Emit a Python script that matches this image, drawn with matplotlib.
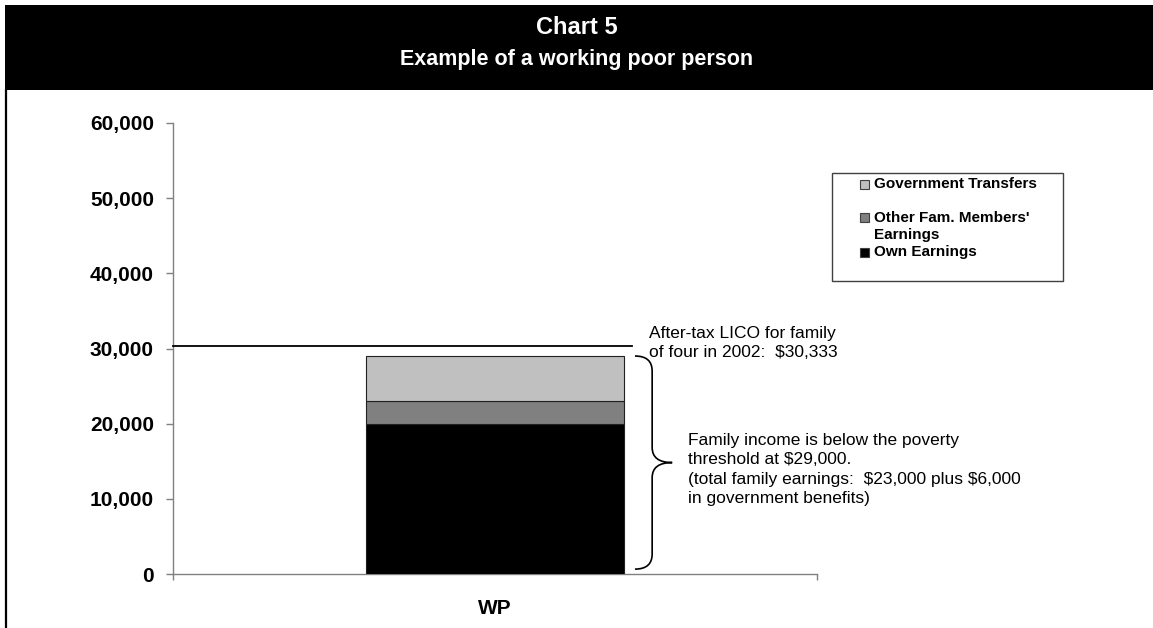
import matplotlib.pyplot as plt
from matplotlib.patches import Rectangle, PathPatch
from matplotlib.path import Path
from matplotlib.lines import Line2D
from matplotlib.ticker import FuncFormatter

plt.rcParams["font.family"] = ["Liberation Sans", "DejaVu Sans"]

# data
categories = ["WP"]
series_names = ["Own Earnings", "Other Fam. Members' Earnings", "Government Transfers"]
series_values = [[20000], [3000], [6000]]
series_colors = ["#000000", "#808080", "#c0c0c0"]
lico = 30333
total_income = 29000

fig = plt.figure(figsize=(11.53, 6.28), dpi=100)

# title band
fig.patches.append(Rectangle((5 / 1153, 1 - 90 / 628), 1 - 5 / 1153, 85 / 628,
                             transform=fig.transFigure, facecolor="black",
                             edgecolor="none", zorder=0))
fig.text(0.5, 1 - 28 / 628, "Chart 5", color="white", fontsize=17,
         fontweight="bold", ha="center", va="center")
fig.text(0.5, 1 - 59 / 628, "Example of a working poor person", color="white",
         fontsize=15.5, fontweight="bold", ha="center", va="center")
fig.lines.append(Line2D([6 / 1153, 6 / 1153], [0, 1 - 90 / 628],
                        transform=fig.transFigure, color="black", lw=1.6))

ax = fig.add_axes([172.7 / 1153, 54 / 628, 644 / 1153, 451 / 628])

# stacked bar
bottom = [0] * len(categories)
for name, vals, col in zip(series_names, series_values, series_colors):
    ax.bar(range(len(categories)), vals, width=0.4, bottom=bottom, color=col,
           edgecolor="#202020", linewidth=0.8, label=name, zorder=3)
    bottom = [b + v for b, v in zip(bottom, vals)]

ax.set_xlim(-0.5, 0.5)
ax.set_ylim(0, 60000)
ax.set_yticks(range(0, 60001, 10000))
ax.yaxis.set_major_formatter(FuncFormatter(lambda v, p: f"{int(v):,}"))
ax.set_xticks(range(len(categories)))
ax.set_xticklabels(categories)
ax.set_xticks([-0.5, 0.5], minor=True)

for s in ["top", "right"]:
    ax.spines[s].set_visible(False)
for s in ["left", "bottom"]:
    ax.spines[s].set_color("#808080")
    ax.spines[s].set_linewidth(1.0)

ax.tick_params(axis="y", length=5, width=1, color="#808080", pad=8.5,
               labelsize=15)
ax.tick_params(axis="x", which="major", length=0, pad=18, labelsize=15)
ax.tick_params(axis="x", which="minor", length=4, width=1, color="#808080")
for lbl in ax.get_yticklabels() + ax.get_xticklabels():
    lbl.set_fontweight("bold")

# LICO line and note
ax.plot([-0.5, 0.213], [lico, lico], color="black", lw=1.3, zorder=4,
        clip_on=False)
ax.text(0.2396, 30750, "After-tax LICO for family\nof four in 2002:  \\$30,333",
        fontsize=12.5, ha="left", va="center", linespacing=1.35)

# curly brace beside the bar
x0, x1, x2 = 0.2178, 0.2445, 0.2756
yt, yb = total_income, 650
ym = (yt + yb) / 2
r = 2000
verts = [(x0, yt), (x1, yt), (x1, yt - r),
         (x1, ym + r),
         (x1, ym), (x2, ym),
         (x1, ym), (x1, ym - r),
         (x1, yb + r),
         (x1, yb), (x0, yb)]
codes = [Path.MOVETO, Path.CURVE3, Path.CURVE3,
         Path.LINETO,
         Path.CURVE3, Path.CURVE3,
         Path.CURVE3, Path.CURVE3,
         Path.LINETO,
         Path.CURVE3, Path.CURVE3]
ax.add_patch(PathPatch(Path(verts, codes), facecolor="none", edgecolor="black",
                       lw=1.2, clip_on=False, zorder=4))

ax.text(0.300, 13900,
        "Family income is below the poverty\nthreshold at \\$29,000.\n"
        "(total family earnings:  \\$23,000 plus \\$6,000\nin government benefits)",
        fontsize=12.5, ha="left", va="center", linespacing=1.35)

# legend box
lx0, lx1 = 832 / 1153, 1063 / 1153
ly_top, ly_bot = 1 - 173 / 628, 1 - 281 / 628
fig.patches.append(Rectangle((lx0, ly_bot), lx1 - lx0, ly_top - ly_bot,
                             transform=fig.transFigure, facecolor="white",
                             edgecolor="#404040", lw=1.0, zorder=5))
legend_rows = [(series_names[2], series_colors[2], 184, ["Government Transfers"]),
               (series_names[1], series_colors[1], 218, ["Other Fam. Members'", "Earnings"]),
               (series_names[0], series_colors[0], 252, ["Own Earnings"])]
for name, col, ypx, lines in legend_rows:
    fig.patches.append(Rectangle((860 / 1153, 1 - (ypx + 4.5) / 628), 9 / 1153, 9 / 628,
                                 transform=fig.transFigure, facecolor=col,
                                 edgecolor="#404040", lw=0.8, zorder=6))
    for i, line in enumerate(lines):
        fig.text(874 / 1153, 1 - (ypx + 17 * i) / 628, line, fontsize=11,
                 fontweight="bold", ha="left", va="center", zorder=6)

fig.savefig("out.png", dpi=100, facecolor="white")
